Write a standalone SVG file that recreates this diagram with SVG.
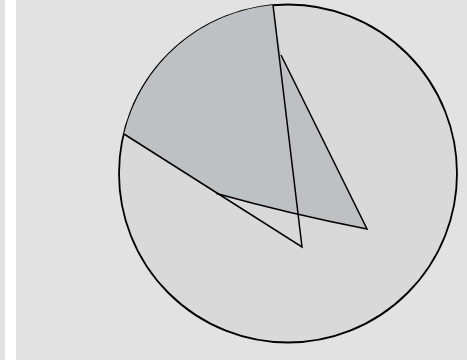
<svg xmlns="http://www.w3.org/2000/svg" width="467" height="360" viewBox="0 0 467 360">
<style>
.ln{fill:none;stroke:#000;stroke-width:1.5;stroke-linejoin:miter}
</style>
<rect x="0" y="0" width="467" height="360" fill="#e1e2e1"/>
<rect x="5" y="0" width="11" height="360" fill="#ffffff"/>
<g id="disc">
<circle cx="288" cy="173.5" r="169" fill="#d9d9d9" stroke="#000" stroke-width="1.8"/>
</g>
<g id="shaded">
<path d="M124,134 A169,169 0 0 1 273,5 L281,55 L367,229 Q290,214 216.5,193.5 Z" fill="#bec1c4"/>
</g>
<g id="connectors">
<path class="ln" d="M124,134 L302,247 L273,5"/>
<path class="ln" d="M281,55 L367,229 Q290,214 216.5,193.5"/>
</g>
</svg>
